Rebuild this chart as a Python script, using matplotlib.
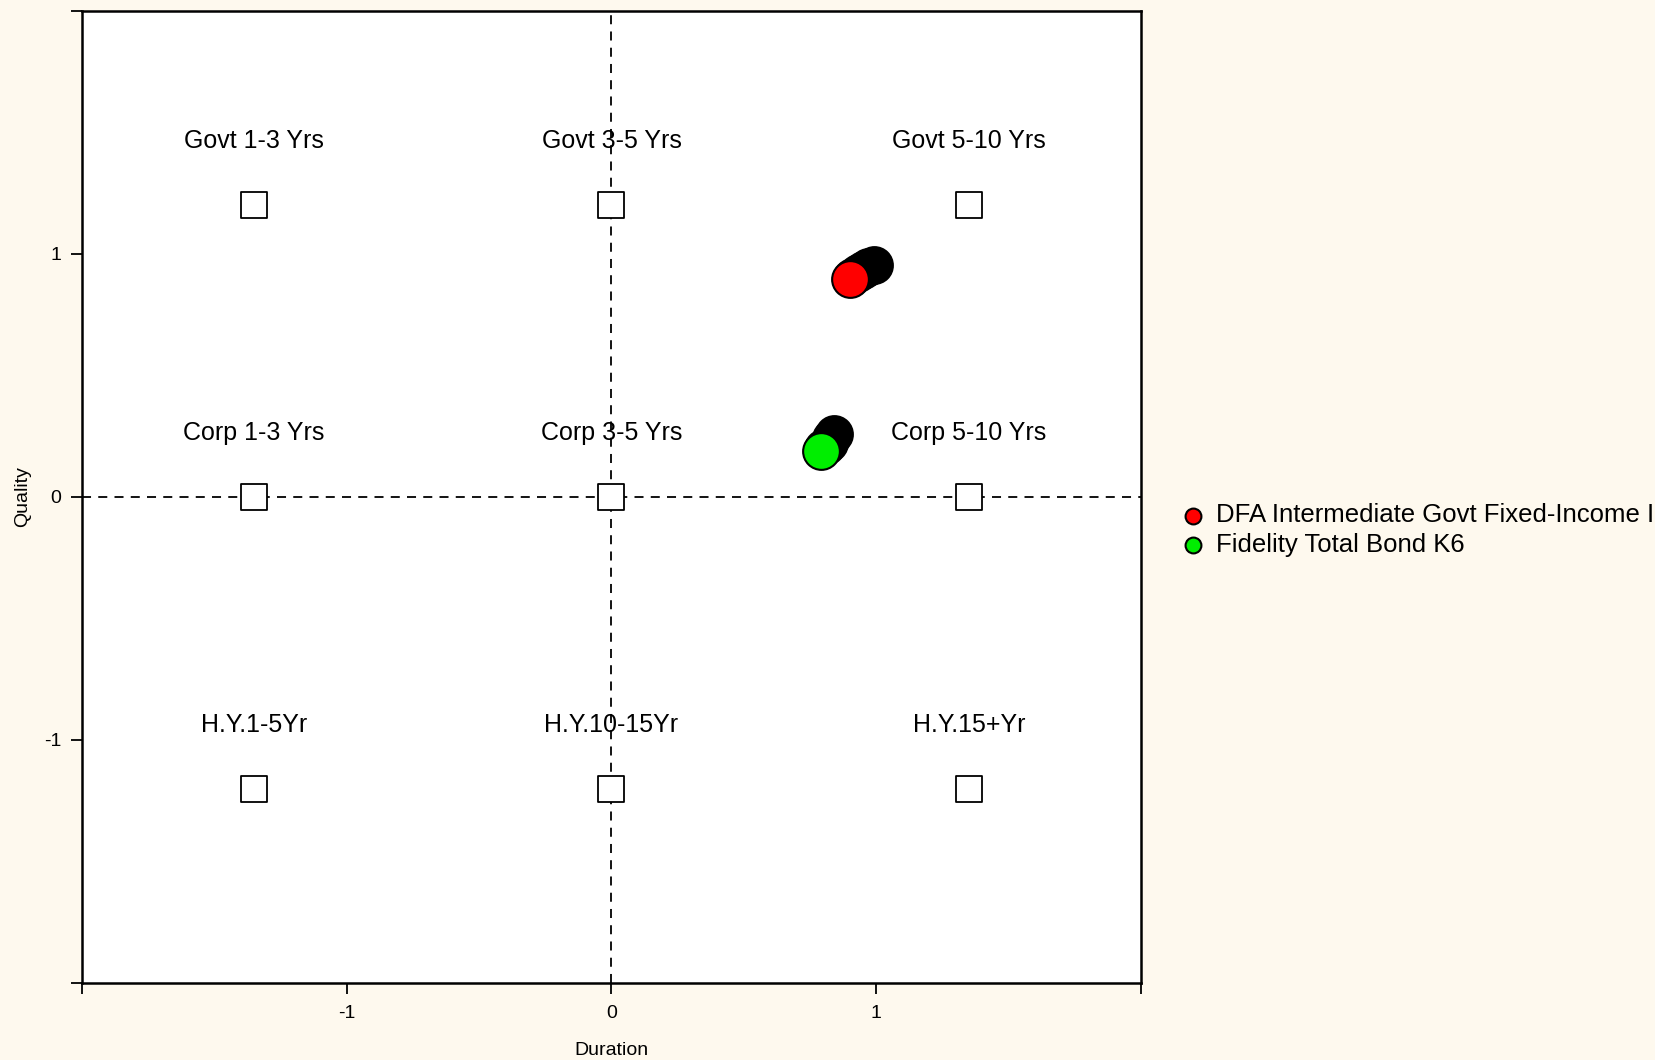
import numpy as np
import matplotlib
matplotlib.use("Agg")
import matplotlib.pyplot as plt

plt.rcParams['font.family'] = ['Liberation Sans', 'DejaVu Sans']

# style box reference points
box_labels = ["Govt 1-3 Yrs", "Govt 3-5 Yrs", "Govt 5-10 Yrs",
              "Corp 1-3 Yrs", "Corp 3-5 Yrs", "Corp 5-10 Yrs",
              "H.Y.1-5Yr", "H.Y.10-15Yr", "H.Y.15+Yr"]
box_x = [-1.35, 0.0, 1.35, -1.35, 0.0, 1.35, -1.35, 0.0, 1.35]
box_y = [1.2, 1.2, 1.2, 0.0, 0.0, 0.0, -1.2, -1.2, -1.2]

# fund histories (older points first, current last)
fund_names = ["DFA Intermediate Govt Fixed-Income I", "Fidelity Total Bond K6"]
fund_colors = ["#ff0000", "#00ee00"]
dfa_x = [0.99, 0.97, 0.95, 0.93, 0.91, 0.90]
dfa_y = [0.955, 0.945, 0.935, 0.92, 0.905, 0.894]
fid_x = [0.84, 0.83, 0.82, 0.81, 0.80, 0.79]
fid_y = [0.26, 0.24, 0.22, 0.21, 0.20, 0.19]

bg = "#fef9ee"
fig = plt.figure(figsize=(16.56, 10.60), dpi=100, facecolor=bg)
ax = fig.add_axes([0.0495, 0.0726, 0.6395, 0.9174])
ax.set_facecolor("white")

ax.axvline(0, color="black", linestyle=(0, (5, 4)), linewidth=1.3, zorder=1)
ax.axhline(0, color="black", linestyle=(0, (5, 4)), linewidth=1.3, zorder=1)

ax.scatter(box_x, box_y, marker="s", s=340, facecolor="white",
           edgecolor="black", linewidth=1.3, zorder=2)
for lx, ly, lab in zip(box_x, box_y, box_labels):
    ax.annotate(lab, (lx, ly), xytext=(0, 46), textcoords="offset points",
                ha="center", va="center", fontsize=18, zorder=3)

for xs, ys, col, name in [(dfa_x, dfa_y, fund_colors[0], fund_names[0]),
                          (fid_x, fid_y, fund_colors[1], fund_names[1])]:
    ax.scatter(xs[:-1], ys[:-1], s=700, color="black", edgecolor="black",
               linewidth=1.5, zorder=4)
    ax.scatter(xs[-1:], ys[-1:], s=700, color=col, edgecolor="black",
               linewidth=1.5, zorder=5)
    ax.scatter([], [], s=130, color=col, edgecolor="black", linewidth=1.5,
               label=name)

ax.set_xlim(-2, 2)
ax.set_ylim(-2, 2)
ax.set_xticks([-2, -1, 0, 1, 2])
ax.set_xticklabels(["", "-1", "0", "1", ""])
ax.set_yticks([-2, -1, 0, 1, 2])
ax.set_yticklabels(["", "-1", "0", "1", ""])
ax.tick_params(axis="both", direction="out", length=8, width=1.3,
               labelsize=14)
ax.tick_params(axis="x", pad=8)
ax.tick_params(axis="y", pad=7)
for sp in ax.spines.values():
    sp.set_linewidth(1.8)
ax.set_xlabel("Duration", fontsize=14, labelpad=14)
ax.set_ylabel("Quality", fontsize=14, labelpad=9)

leg = fig.legend(loc="center left", bbox_to_anchor=(0.714, 0.5), frameon=False,
                 fontsize=18.5, handlelength=0.8, handletextpad=0.5,
                 labelspacing=0.2, borderaxespad=0, borderpad=0)

plt.savefig("out.png", dpi=100, facecolor=bg)
